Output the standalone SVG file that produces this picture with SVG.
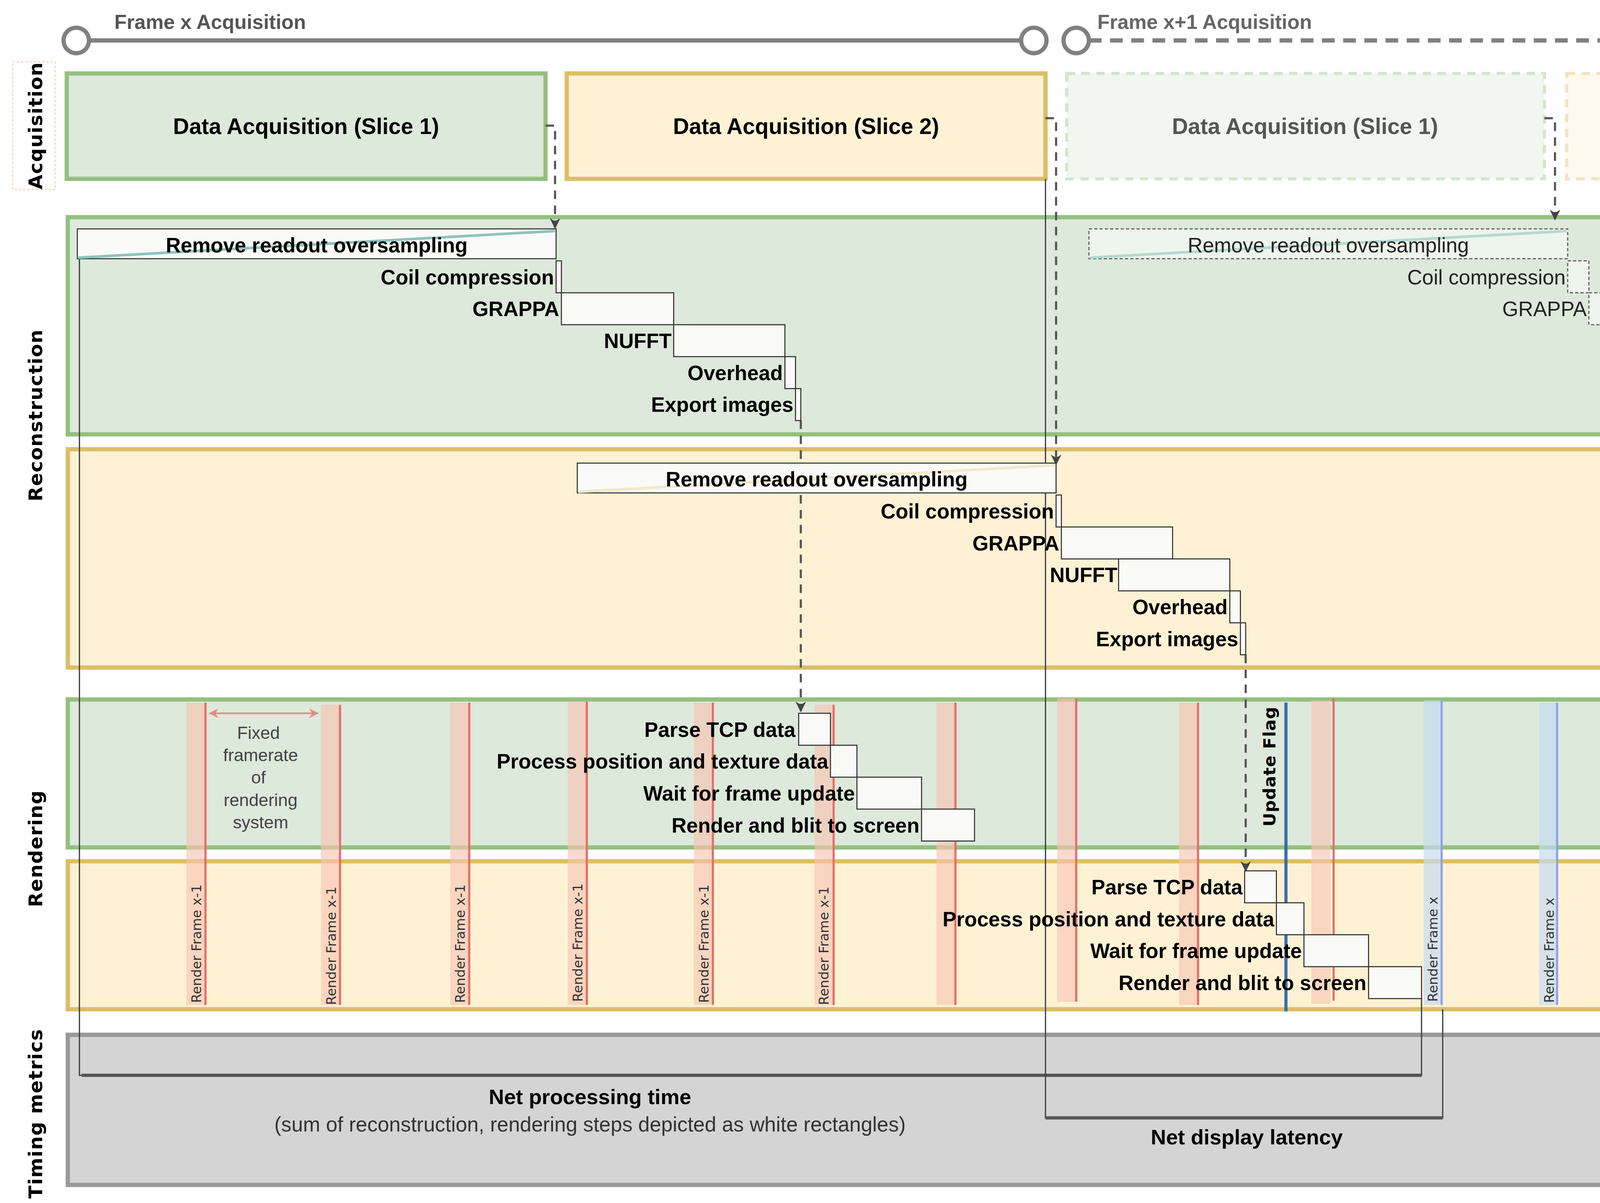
<svg xmlns="http://www.w3.org/2000/svg" width="4252" height="3079" viewBox="0 0 4252 3079">
<defs>
<style>
text{font-family:"Liberation Sans",Arial,sans-serif;fill:#000}
.b{font-weight:bold}
.st{font-size:19.5px;font-weight:bold;text-anchor:end}
.stn{font-size:19.5px;text-anchor:end;fill:#222}
.sec{font-family:"DejaVu Sans",Verdana,sans-serif;font-size:18px;font-weight:bold;text-anchor:middle;letter-spacing:0.6px}
.rf{font-size:12.5px;fill:#333;font-family:"DejaVu Sans",sans-serif}
.g{fill:#dde9db;stroke:#94c07e;stroke-width:4}
.y{fill:#fff2d4;stroke:#dcbe66;stroke-width:4}
.stp{fill:#fafbf8;stroke:#333;stroke-width:1}
.stpd{fill:#eef5ec;stroke:#555;stroke-width:1;stroke-dasharray:3 2}
.dash{fill:none;stroke:#555;stroke-width:2;stroke-dasharray:8 6}
.bar{fill:#f8c4b4;opacity:.65}
.rl{stroke:#ea6b66;stroke-width:2}
.bbar{fill:#c4dcf0;opacity:.7}
.bl{stroke:#8ea0f0;stroke-width:2}
</style>
<marker id="ah" viewBox="0 0 10 10" refX="9" refY="5" markerWidth="5" markerHeight="5" orient="auto"><path d="M0,0 L10,5 L0,10 L3,5 z" fill="#444"/></marker>
<marker id="ra" viewBox="0 0 10 10" refX="9" refY="5" markerWidth="6" markerHeight="6" orient="auto-start-reverse"><path d="M0,0 L10,5 L0,10 L3,5 z" fill="#ea8a86"/></marker>
</defs>
<rect width="4252" height="3079" fill="#fff"/>
<g transform="scale(2.7117,2.7248)">
<g id="timeline">
<line x1="84" y1="38" x2="964" y2="38" stroke="#808080" stroke-width="4"/>
<circle cx="72" cy="38" r="12" fill="#fff" stroke="#808080" stroke-width="4"/>
<circle cx="976" cy="38" r="12" fill="#fff" stroke="#808080" stroke-width="4"/>
<line x1="1028" y1="38" x2="1522" y2="38" stroke="#808080" stroke-width="4" stroke-dasharray="12 8"/>
<circle cx="1016" cy="38" r="12" fill="#fff" stroke="#808080" stroke-width="4"/>
<path d="M1525,23 L1553,38 L1525,53 z" fill="#fff" stroke="#808080" stroke-width="4"/>
<text x="108" y="27" font-size="19" class="b" style="fill:#555">Frame x Acquisition</text>
<text x="1036" y="27" font-size="19" class="b" style="fill:#666">Frame x+1 Acquisition</text>
</g>
<g id="section-labels">
<rect x="12" y="58" width="40" height="120" fill="none" stroke="#f4c9b8" stroke-width="1" stroke-dasharray="2 2"/>
<text class="sec" transform="translate(40,118) rotate(-90)">Acquisition</text>
<text class="sec" transform="translate(40,390) rotate(-90)">Reconstruction</text>
<text class="sec" transform="translate(40,797) rotate(-90)">Rendering</text>
<text class="sec" transform="translate(40,1046) rotate(-90)">Timing metrics</text>
</g>
<g id="acq">
<rect class="g" x="63" y="69" width="452" height="99"/>
<text x="289" y="126" font-size="21" class="b" text-anchor="middle">Data Acquisition (Slice 1)</text>
<rect class="y" x="535" y="69" width="452" height="99"/>
<text x="761" y="126" font-size="21" class="b" text-anchor="middle">Data Acquisition (Slice 2)</text>
<g opacity="0.4"><rect x="1007" y="69" width="451" height="99" fill="#dde9db" stroke="#94c07e" stroke-width="3" stroke-dasharray="8 6"/>
<rect x="1479" y="69" width="71" height="99" fill="#fff2d4" stroke="#dcbe66" stroke-width="3" stroke-dasharray="8 6"/></g>
<text x="1232" y="126" font-size="21" class="b" text-anchor="middle" style="fill:#555">Data Acquisition (Slice 1)</text>
</g>
<g id="panels">
<rect class="g" x="64" y="204" width="1486" height="204"/>
<rect class="y" x="64" y="422" width="1486" height="205"/>
<rect class="g" x="64" y="657" width="1486" height="139"/>
<rect class="y" x="64" y="809" width="1486" height="139"/>
<rect x="64" y="972" width="1486" height="141" fill="#d4d4d4" stroke="#999" stroke-width="4"/>
</g>
<g id="render-bars">
<rect class="bar" x="176" y="660" width="18" height="284"/><line class="rl" x1="194" y1="660" x2="194" y2="944"/>
<rect class="bar" x="303" y="662" width="18" height="282"/><line class="rl" x1="321" y1="662" x2="321" y2="944"/>
<rect class="bar" x="425" y="660" width="18" height="284"/><line class="rl" x1="443" y1="660" x2="443" y2="944"/>
<rect class="bar" x="536" y="659" width="18" height="285"/><line class="rl" x1="554" y1="659" x2="554" y2="944"/>
<rect class="bar" x="655" y="660" width="18" height="284"/><line class="rl" x1="673" y1="660" x2="673" y2="944"/>
<rect class="bar" x="769" y="662" width="18" height="282"/><line class="rl" x1="787" y1="662" x2="787" y2="944"/>
<rect class="bar" x="884" y="660" width="18" height="284"/><line class="rl" x1="902" y1="660" x2="902" y2="944"/>
<rect class="bar" x="998" y="656" width="18" height="285"/><line class="rl" x1="1016" y1="656" x2="1016" y2="941"/>
<rect class="bar" x="1113" y="660" width="18" height="284"/><line class="rl" x1="1131" y1="660" x2="1131" y2="944"/>
<rect class="bar" x="1238" y="658" width="18" height="285"/><line class="rl" x1="1259" y1="656" x2="1259" y2="940"/>
<rect class="bbar" x="1344" y="658" width="17" height="286"/><line class="bl" x1="1361" y1="658" x2="1361" y2="944"/>
<rect class="bbar" x="1453" y="660" width="17" height="284"/><line class="bl" x1="1470" y1="660" x2="1470" y2="944"/>
<text class="rf" transform="translate(190,942) rotate(-90)">Render Frame x-1</text>
<text class="rf" transform="translate(317,944) rotate(-90)">Render Frame x-1</text>
<text class="rf" transform="translate(439,942) rotate(-90)">Render Frame x-1</text>
<text class="rf" transform="translate(550,941) rotate(-90)">Render Frame x-1</text>
<text class="rf" transform="translate(669,942) rotate(-90)">Render Frame x-1</text>
<text class="rf" transform="translate(782,944) rotate(-90)">Render Frame x-1</text>
<text class="rf" transform="translate(1357,941) rotate(-90)">Render Frame x</text>
<text class="rf" transform="translate(1467,942) rotate(-90)">Render Frame x</text>
<line x1="198" y1="670" x2="300" y2="670" stroke="#ea8a86" stroke-width="1.5" marker-start="url(#ra)" marker-end="url(#ra)"/>
<g font-size="16.5" text-anchor="middle"><text x="244" y="694" style="fill:#444">Fixed</text><text x="246" y="715" style="fill:#444">framerate</text><text x="244" y="736" style="fill:#444">of</text><text x="246" y="757" style="fill:#444">rendering</text><text x="246" y="778" style="fill:#444">system</text></g>
<line x1="1214" y1="660" x2="1214" y2="950" stroke="#3d6fa8" stroke-width="3"/>
<text class="sec" transform="translate(1204,720) rotate(-90)" style="font-size:16px;letter-spacing:0.3px">Update Flag</text>
</g>
<g id="connectors">
<path class="dash" d="M515,118 H524 V214" marker-end="url(#ah)"/>
<path class="dash" d="M987,111 H997 V436" marker-end="url(#ah)"/>
<path class="dash" d="M1458,111 H1468 V206" marker-end="url(#ah)"/>
<path class="dash" d="M756,395 V668" marker-end="url(#ah)"/>
<path class="dash" d="M1176,615 V818" marker-end="url(#ah)"/>
<path d="M75,243 V1010 H1342 V938" fill="none" stroke="#444" stroke-width="1.2"/>
<line x1="77" y1="1010" x2="1342" y2="1010" stroke="#555" stroke-width="3"/>
<path d="M987,168 V1050 H1362 V948" fill="none" stroke="#444" stroke-width="1.2"/>
<line x1="987" y1="1050" x2="1362" y2="1050" stroke="#555" stroke-width="3"/>
</g>
<g id="recon-slice1">
<rect class="stp" x="73" y="215" width="452" height="28"/>
<line x1="74" y1="242" x2="524" y2="217" stroke="#8fc3bc" stroke-width="2.5"/>
<text x="299" y="237" font-size="19.5" class="b" text-anchor="middle">Remove readout oversampling</text>
<rect class="stp" x="525" y="245" width="5" height="30"/><text class="st" x="523" y="267">Coil compression</text>
<rect class="stp" x="530" y="275" width="106" height="30"/><text class="st" x="528" y="297">GRAPPA</text>
<rect class="stp" x="636" y="305" width="105" height="30"/><text class="st" x="634" y="327">NUFFT</text>
<rect class="stp" x="741" y="335" width="10" height="30"/><text class="st" x="739" y="357">Overhead</text>
<rect class="stp" x="751" y="365" width="5" height="30"/><text class="st" x="749" y="387">Export images</text>
</g>
<g id="recon-slice2">
<rect class="stp" x="545" y="435" width="452" height="28"/>
<line x1="546" y1="462" x2="996" y2="437" stroke="#f3e8c8" stroke-width="2.5"/>
<text x="771" y="457" font-size="19.5" class="b" text-anchor="middle">Remove readout oversampling</text>
<rect class="stp" x="997" y="465" width="5" height="30"/><text class="st" x="995" y="487">Coil compression</text>
<rect class="stp" x="1002" y="495" width="105" height="30"/><text class="st" x="1000" y="517">GRAPPA</text>
<rect class="stp" x="1056" y="525" width="105" height="30"/><text class="st" x="1055" y="547">NUFFT</text>
<rect class="stp" x="1161" y="555" width="10" height="30"/><text class="st" x="1159" y="577">Overhead</text>
<rect class="stp" x="1171" y="585" width="5" height="30"/><text class="st" x="1169" y="607">Export images</text>
</g>
<g id="recon-next">
<rect class="stpd" x="1028" y="215" width="452" height="28"/>
<line x1="1029" y1="242" x2="1479" y2="217" stroke="#b5d8d2" stroke-width="2.5"/>
<text x="1254" y="237" font-size="19.5" text-anchor="middle" style="fill:#222">Remove readout oversampling</text>
<rect class="stpd" x="1480" y="245" width="20" height="30"/><text class="stn" x="1478" y="267">Coil compression</text>
<rect class="stpd" x="1500" y="275" width="50" height="30"/><text class="stn" x="1498" y="297">GRAPPA</text>
</g>
<g id="render-steps1">
<rect class="stp" x="754" y="670" width="30" height="30"/><text class="st" x="751" y="692">Parse TCP data</text>
<rect class="stp" x="784" y="700" width="25" height="30"/><text class="st" x="782" y="722">Process position and texture data</text>
<rect class="stp" x="809" y="730" width="61" height="30"/><text class="st" x="807" y="752">Wait for frame update</text>
<rect class="stp" x="870" y="760" width="50" height="30"/><text class="st" x="868" y="782">Render and blit to screen</text>
</g>
<g id="render-steps2">
<rect class="stp" x="1175" y="818" width="30" height="30"/><text class="st" x="1173" y="840">Parse TCP data</text>
<rect class="stp" x="1205" y="848" width="26" height="30"/><text class="st" x="1203" y="870">Process position and texture data</text>
<rect class="stp" x="1231" y="878" width="61" height="30"/><text class="st" x="1229" y="900">Wait for frame update</text>
<rect class="stp" x="1292" y="908" width="50" height="30"/><text class="st" x="1290" y="930">Render and blit to screen</text>
</g>
<g id="metrics">
<text x="557" y="1037" font-size="20" class="b" text-anchor="middle">Net processing time</text>
<text x="557" y="1063" font-size="19.5" text-anchor="middle" style="fill:#333">(sum of reconstruction, rendering steps depicted as white rectangles)</text>
<text x="1177" y="1075" font-size="20" class="b" text-anchor="middle">Net display latency</text>
</g>
</g>
</svg>
